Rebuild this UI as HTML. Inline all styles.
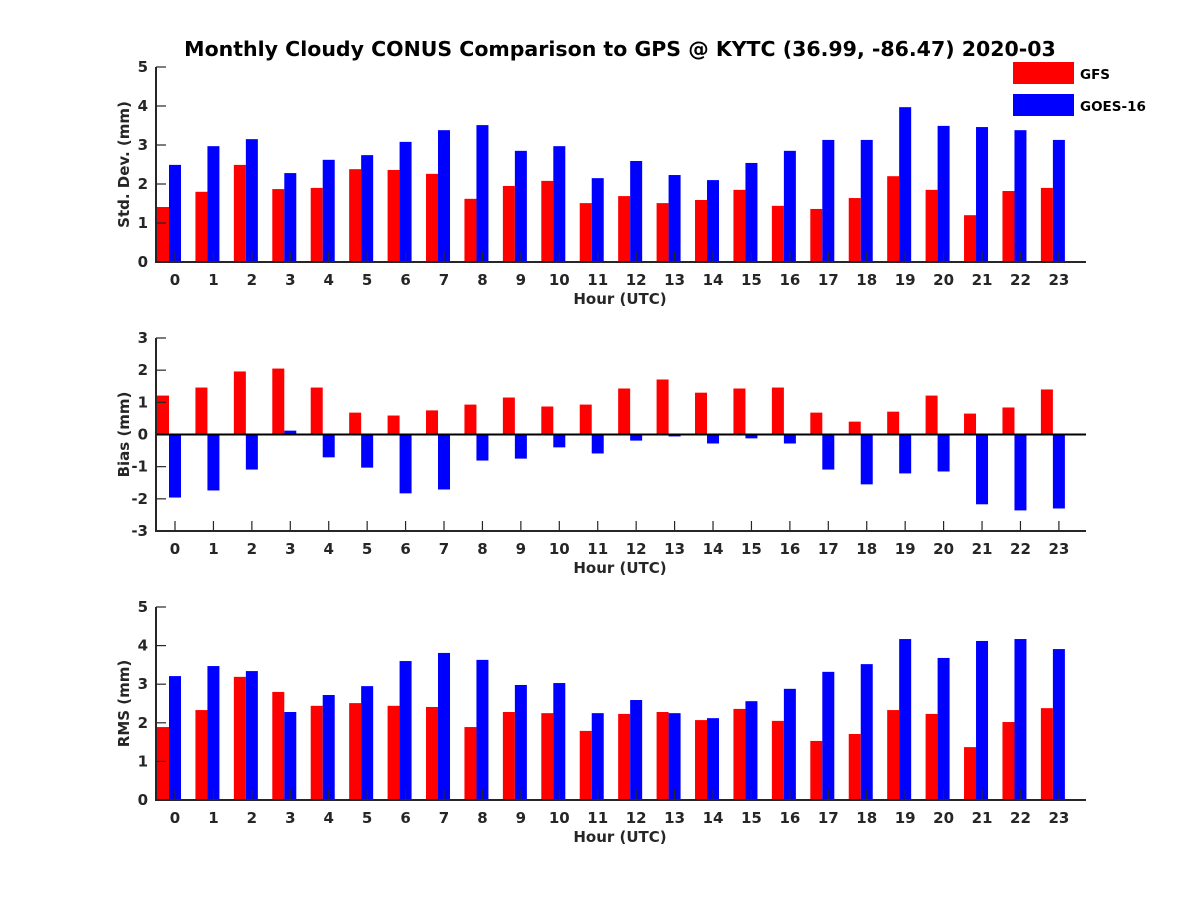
<!DOCTYPE html>
<html><head><meta charset="utf-8"><style>
html,body{margin:0;padding:0;background:#fff;}
svg text{font-family:"DejaVu Sans","Liberation Sans",sans-serif;font-weight:bold;fill:#262626;}
</style></head><body>
<svg id="chart" width="1200" height="900" xmlns="http://www.w3.org/2000/svg">
<text x="620" y="56" font-size="20.5" text-anchor="middle" style="fill:#000">Monthly Cloudy CONUS Comparison to GPS @ KYTC (36.99, -86.47) 2020-03</text>
<rect x="1013" y="62" width="61" height="22" fill="#ff0000"/>
<text x="1080" y="79" font-size="13.5" style="fill:#000">GFS</text>
<rect x="1013" y="94" width="61" height="22" fill="#0000ff"/>
<text x="1080" y="111" font-size="13.5" style="fill:#000">GOES-16</text>
</svg>
<script>
const hours=[0,1,2,3,4,5,6,7,8,9,10,11,12,13,14,15,16,17,18,19,20,21,22,23];
const stdGFS=[1.41,1.8,2.49,1.87,1.9,2.38,2.36,2.26,1.62,1.95,2.08,1.51,1.69,1.51,1.59,1.85,1.44,1.36,1.64,2.2,1.85,1.2,1.82,1.9];
const stdGOES=[2.49,2.97,3.15,2.28,2.62,2.74,3.08,3.38,3.51,2.85,2.97,2.15,2.59,2.23,2.1,2.54,2.85,3.13,3.13,3.97,3.49,3.46,3.38,3.13];
const biasGFS=[1.21,1.46,1.96,2.05,1.46,0.68,0.59,0.75,0.93,1.15,0.87,0.93,1.43,1.71,1.3,1.43,1.46,0.68,0.4,0.71,1.21,0.65,0.84,1.4];
const biasGOES=[-1.96,-1.74,-1.09,0.12,-0.71,-1.03,-1.83,-1.71,-0.81,-0.75,-0.4,-0.59,-0.19,-0.06,-0.28,-0.12,-0.28,-1.09,-1.55,-1.21,-1.15,-2.17,-2.36,-2.3];
const rmsGFS=[1.89,2.33,3.19,2.8,2.44,2.51,2.44,2.41,1.89,2.28,2.25,1.79,2.23,2.28,2.07,2.36,2.05,1.53,1.71,2.33,2.23,1.37,2.02,2.38];
const rmsGOES=[3.21,3.47,3.34,2.28,2.72,2.95,3.6,3.81,3.63,2.98,3.03,2.25,2.59,2.25,2.12,2.56,2.88,3.32,3.52,4.17,3.68,4.12,4.17,3.91];
const stdTicks=[0,1,2,3,4,5];
const biasTicks=[-3,-2,-1,0,1,2,3];
const rmsTicks=[0,1,2,3,4,5];

const svg=document.getElementById('chart');
const NS='http://www.w3.org/2000/svg';
function mk(tag,attrs){const e=document.createElementNS(NS,tag);for(const k in attrs)e.setAttribute(k,attrs[k]);svg.appendChild(e);return e;}
const X0=156,X1=1086;
function xs(h){return 175+h*38.43;}

function panel(id,top,bottom,ymin,ymax,ticks,gfs,goes,ylabel){
  const ys=v=>bottom-(v-ymin)/(ymax-ymin)*(bottom-top);
  const base=ys(Math.max(ymin,0));
  hours.forEach((h,i)=>{
    const c=xs(h);
    const y1=ys(gfs[i]);
    const r=mk('rect',{x:c-18,y:Math.min(y1,base),width:12,height:Math.abs(base-y1),fill:'#ff0000'});
    
    
    const y2=ys(goes[i]);
    const b=mk('rect',{x:c-6,y:Math.min(y2,base),width:12,height:Math.abs(base-y2),fill:'#0000ff'});
    
    
    const t=mk('text',{x:c,y:bottom+23,'font-size':15,'text-anchor':'middle'});
    t.textContent=h;
    
    
    const tk=mk('line',{x1:c,x2:c,y1:bottom,y2:bottom-10,stroke:'#262626','stroke-width':1.2});
    
    
  });
  ticks.forEach(v=>{
    const y=ys(v);
    const t=mk('text',{x:X0-8,y:y+5,'font-size':15,'text-anchor':'end'});
    t.textContent=v;
    
    
    const tk=mk('line',{x1:X0,x2:X0+10,y1:y,y2:y,stroke:'#262626','stroke-width':1.2});
    
    
  });
  if(ymin<0){
    const z=mk('line',{x1:X0,x2:X1,y1:base,y2:base,stroke:'#000','stroke-width':2});
    
    
  }
  const ax=mk('path',{d:`M${X0},${top} V${bottom} H${X1}`,fill:'none',stroke:'#262626','stroke-width':2});
  
  
  const xl=mk('text',{x:620,y:bottom+42,'font-size':15,'text-anchor':'middle'});
  xl.textContent='Hour (UTC)';
  
  
  const cy=(top+bottom)/2;
  const yl=mk('text',{x:0,y:0,'font-size':15,'text-anchor':'middle',transform:`translate(129,${cy}) rotate(-90)`});
  yl.textContent=ylabel;
  
  
}
panel('std',67,262,0,5,stdTicks,stdGFS,stdGOES,'Std. Dev. (mm)');
panel('bias',338,531,-3,3,biasTicks,biasGFS,biasGOES,'Bias (mm)');
panel('rms',607,800,0,5,rmsTicks,rmsGFS,rmsGOES,'RMS (mm)');
</script>
</body></html>
